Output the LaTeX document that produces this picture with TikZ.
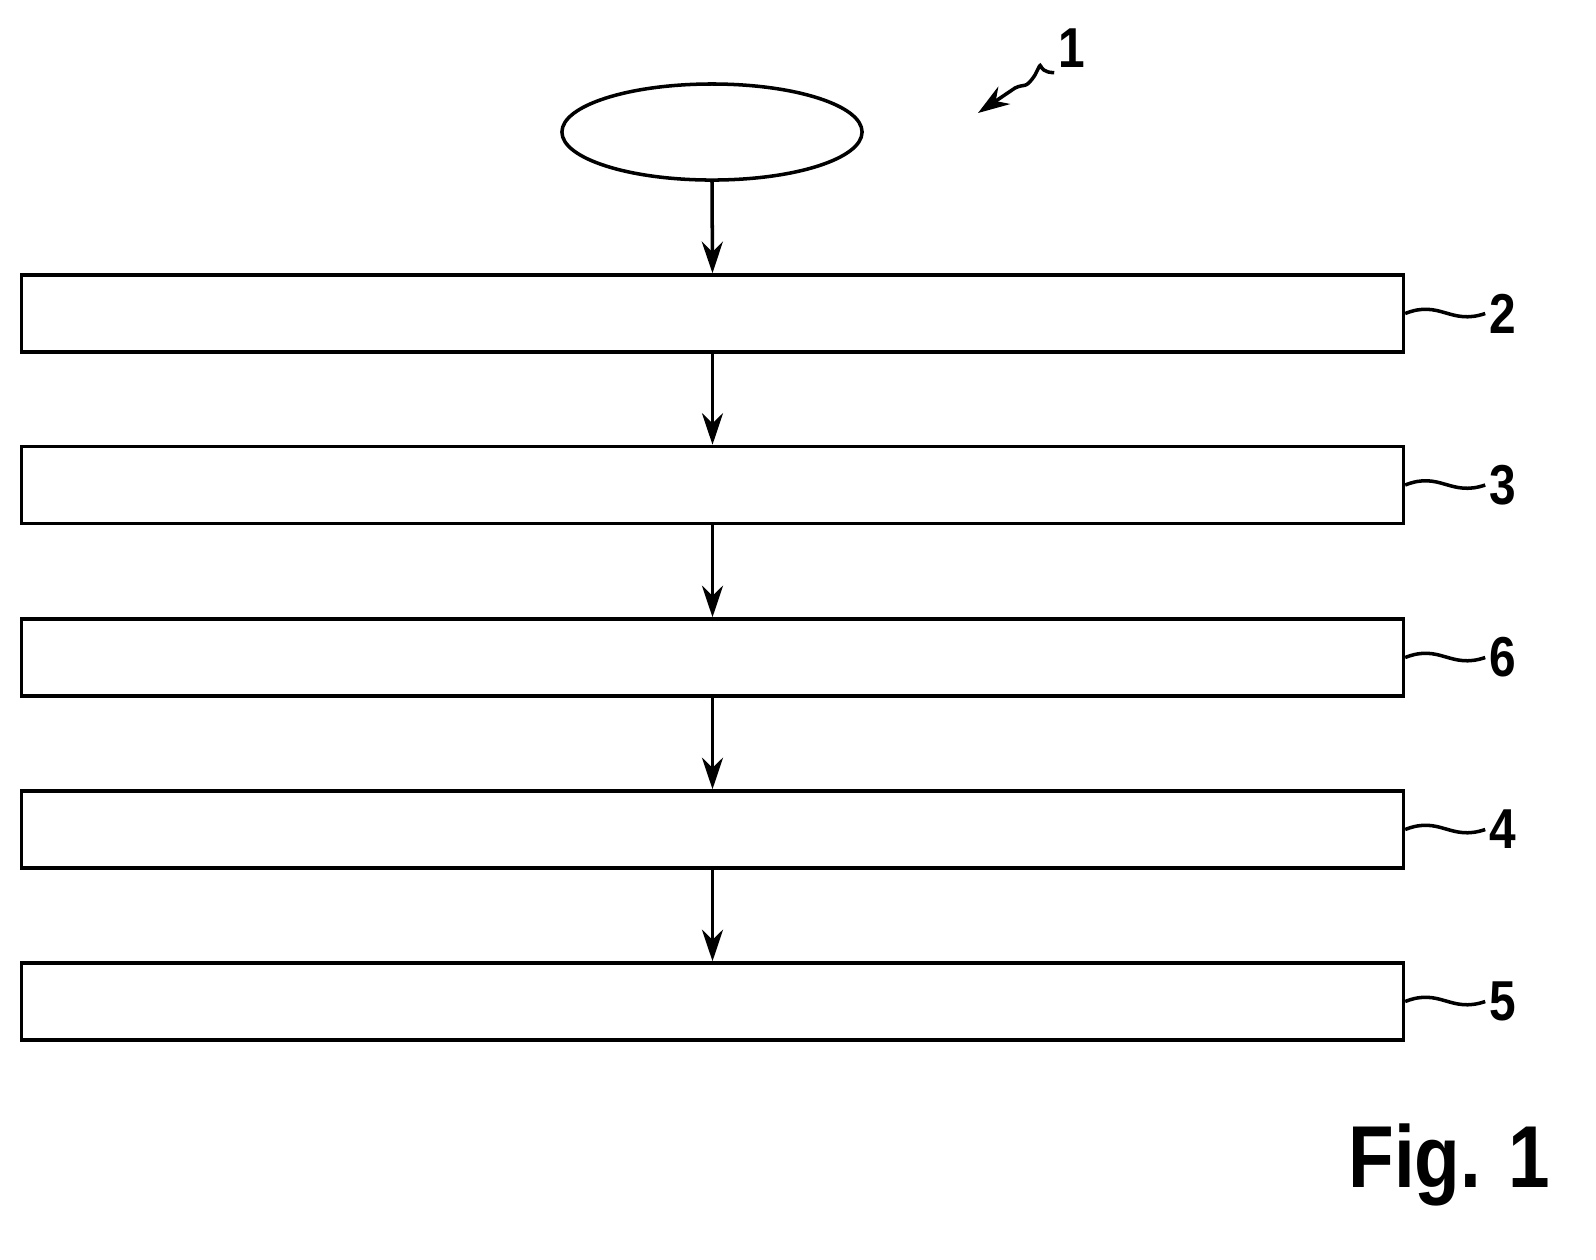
\documentclass[tikz,border=0pt]{standalone}
\usepackage{fontspec}
\setmainfont{Liberation Sans}
\usetikzlibrary{arrows.meta,shapes.geometric}
\begin{document}
\begin{tikzpicture}[x=0.01cm,y=-0.01cm,line width=1pt,
  stepbox/.style={draw,minimum width=13.81cm,minimum height=0.77cm,inner sep=0},
  flow/.style={-{Stealth[length=9pt,width=6pt]}},
  lbl/.style={font=\fontsize{16}{16}\selectfont\bfseries,inner sep=1pt,xscale=0.85}]
\useasboundingbox (0,0) rectangle (1596,1259);
\node[draw,ellipse,minimum width=3cm,minimum height=0.96cm,inner sep=0] (e) at (712,132) {};
\node[stepbox] (b2) at (712.5,313.5) {};
\node[stepbox] (b3) at (712.5,485) {};
\node[stepbox] (b6) at (712.5,657.5) {};
\node[stepbox] (b4) at (712.5,829.5) {};
\node[stepbox] (b5) at (712.5,1001.5) {};
\draw[flow] (e.south) -- (b2.north);
\draw[flow] (b2.south) -- (b3.north);
\draw[flow] (b3.south) -- (b6.north);
\draw[flow] (b6.south) -- (b4.north);
\draw[flow] (b4.south) -- (b5.north);
\foreach \b/\t in {b2/2,b3/3,b6/6,b4/4,b5/5}{
  \node[lbl,anchor=west] (l\t) at ([xshift=0.8cm]\b.east) {\t};
  \draw (\b.east) .. controls +(35,-14) and +(-35,12) .. (l\t.west);
}
\node[lbl] (l1) at (1072,48) {1};
\coordinate (a1) at (978,113);
\draw[flow] (l1.south west) .. controls +(-20,0) and +(10,-20) .. (1035,75) .. controls +(-10,15) and +(10,-5) .. (1015,88) -- (a1);
\node[font=\fontsize{25}{25}\selectfont\bfseries,anchor=east,xscale=0.85,inner sep=0] (fig) at (1552,1165) {Fig. 1};
\end{tikzpicture}
\end{document}
